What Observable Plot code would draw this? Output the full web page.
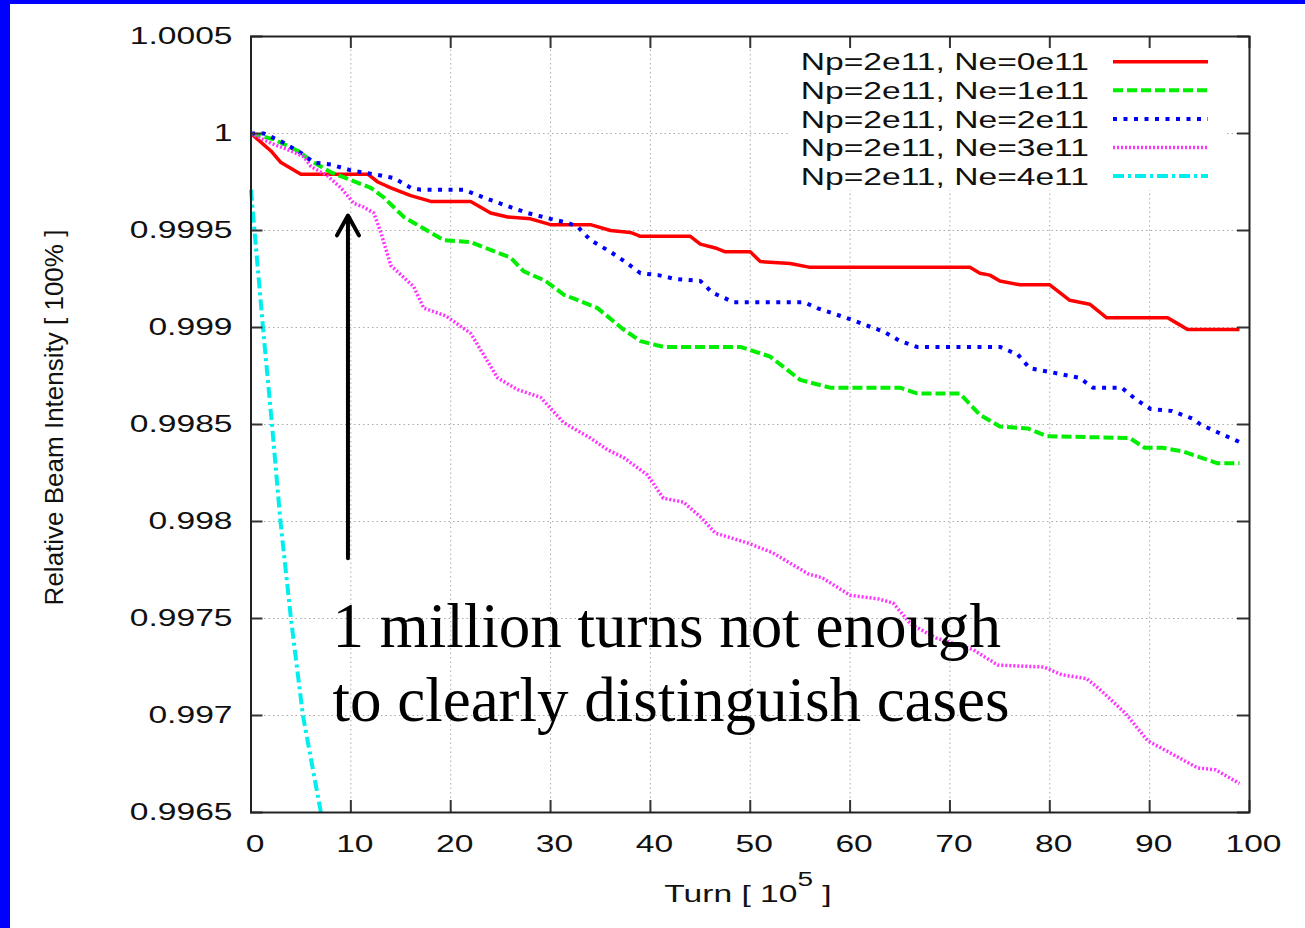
<!DOCTYPE html>
<html><head><meta charset="utf-8">
<script src="https://cdn.jsdelivr.net/npm/d3@7"></script>
<script src="https://cdn.jsdelivr.net/npm/@observablehq/plot@0.6"></script>
<style>
html,body{margin:0;padding:0;background:#fff;}
#page{position:relative;width:1305px;height:928px;overflow:hidden;background:#fff;}
#barL{position:absolute;left:0;top:0;width:10px;height:928px;background:#0000ff;}
#barT{position:absolute;left:0;top:0;width:1305px;height:4px;background:#0000ff;}
#chart{position:absolute;left:10px;top:4px;}
</style></head><body>
<div id="page"><div id="chart"></div><div id="barL"></div><div id="barT"></div></div>
<script>
// ---------- data ----------
const seriesLabels = ["Np=2e11, Ne=0e11","Np=2e11, Ne=1e11","Np=2e11, Ne=2e11","Np=2e11, Ne=3e11","Np=2e11, Ne=4e11"];

const turnsNe0 = [0,2,3,5,11.7,12.7,14,16,18,22,24,25.7,28,30,34,36,38,39,44,45,46.5,47.5,50,51,54,56,72,73,74,75,77,80,82,84,85.7,91.8,92.8,93.8,99];
const intensityNe0 = [1,0.99991,0.99985,0.99979,0.99979,0.99975,0.99972,0.99968,0.99965,0.99965,0.99959,0.99957,0.99956,0.99953,0.99953,0.9995,0.99949,0.99947,0.99947,0.99943,0.99941,0.99939,0.99939,0.99934,0.99933,0.99931,0.99931,0.99928,0.99927,0.99924,0.99922,0.99922,0.99914,0.99912,0.99905,0.99905,0.99902,0.99899,0.99899];

const turnsNe1 = [0,2.3,4.7,6,8,10,12,13.3,15.3,17.3,19.3,22,26,27.3,29.5,31.3,34.7,37.3,39,41.3,49,52,55,58,65,66.7,71,73,75,77.8,79.7,88,89.5,91.3,93.4,96.8,99];
const intensityNe1 = [1,0.99997,0.99991,0.99986,0.9998,0.99976,0.99972,0.99967,0.99957,0.99951,0.99945,0.99944,0.99936,0.99929,0.99924,0.99917,0.9991,0.99899,0.99893,0.9989,0.9989,0.99885,0.99873,0.99869,0.99869,0.99866,0.99866,0.99855,0.99849,0.99848,0.99844,0.99843,0.99838,0.99838,0.99836,0.9983,0.9983];

const turnsNe2 = [0,1.3,3,5,6.3,8,10,12.3,14.3,16,17,21.3,23.3,26,27.7,30,31.7,32.7,34,36,37.7,39,40.8,42.5,45,46.2,47.5,48.3,55.4,56.7,59.6,61.7,63.3,65,66.7,75,76.8,78,80.1,83,84.3,87.2,88.6,90.1,92.2,94.3,95.1,96.8,99];
const intensityNe2 = [1,1,0.99996,0.9999,0.99985,0.99984,0.99981,0.99979,0.99977,0.99972,0.99971,0.99971,0.99967,0.99962,0.99959,0.99956,0.99954,0.99952,0.99945,0.99939,0.99933,0.99928,0.99927,0.99925,0.99924,0.99918,0.99915,0.99913,0.99913,0.9991,0.99905,0.99901,0.99898,0.99893,0.9989,0.9989,0.99886,0.99879,0.99877,0.99874,0.99869,0.99869,0.99863,0.99858,0.99857,0.99853,0.9985,0.99846,0.99841];

const turnsNe3 = [0,2,4,5.3,6,7.7,9,10.3,11.3,12.3,13,14,16.3,17.3,19.5,22,24.7,26.7,29,31.3,34,35.7,37.3,39.7,41.3,43.3,45.1,46.5,49.7,52.2,55.8,57.2,60,62.9,64.3,66.1,68.6,72.3,74.8,79.4,81.2,83.7,85.1,87.6,89.8,91.6,94.8,96.6,99];
const intensityNe3 = [1,0.99995,0.99991,0.99988,0.99983,0.99978,0.99972,0.99964,0.99962,0.99959,0.99949,0.99932,0.99921,0.9991,0.99906,0.99897,0.99874,0.99868,0.99864,0.99851,0.99843,0.99837,0.99833,0.99824,0.99812,0.9981,0.99802,0.99794,0.99789,0.99784,0.99773,0.99771,0.99762,0.9976,0.99758,0.99747,0.9974,0.99734,0.99726,0.99725,0.99721,0.99719,0.99713,0.99701,0.99687,0.99682,0.99673,0.99672,0.99665];

const turnsNe4 = [0,0.35,1.2,2.1,2.95,4.0,5.2,7.0];
const intensityNe4 = [0.99971,0.9995,0.999,0.9985,0.998,0.9975,0.997,0.9965];

const xTicks = [0,10,20,30,40,50,60,70,80,90,100];
const xTickLabels = ["0","10","20","30","40","50","60","70","80","90","100"];
const yTicks = [0.9965,0.997,0.9975,0.998,0.9985,0.999,0.9995,1,1.0005];
const yTickLabels = ["0.9965","0.997","0.9975","0.998","0.9985","0.999","0.9995","1","1.0005"];

const xLabelMain = "Turn [ 10", xLabelSup = "5", xLabelEnd = " ]";
const yLabelText = "Relative Beam Intensity [ 100% ]";

const annotationLines = ["1 million turns not enough", "to clearly distinguish cases"];
const annotationAt = {turn: 8.16, intensity: 0.99697};
const arrowAt = {turn: 9.71, from: 0.99781, to: 0.999577};

// ---------- styles ----------
const seriesColors = ["#ff0000","#00ee00","#0000ff","#ff33ff","#00eeee"];
const seriesWidths = [3.5,4,4,3.5,4];
const seriesDashes = [null,"10,4","4,6.5","2,2","11,4,3,4"];

const turns = [turnsNe0,turnsNe1,turnsNe2,turnsNe3,turnsNe4];
const intensities = [intensityNe0,intensityNe1,intensityNe2,intensityNe3,intensityNe4];
const rows = seriesLabels.map((label,i) => turns[i].map((t,j) => ({series: label, turn: t, intensity: intensities[i][j]})));

const W = 1295, H = 924, mL = 240.5, mR = 56, mT = 32, mB = 116;
const innerW = W - mL - mR, innerH = H - mT - mB;
const TICK = 12;

const svg = Plot.plot({
  width: W, height: H,
  marginLeft: mL, marginRight: mR, marginTop: mT, marginBottom: mB,
  style: {background: "transparent", fontFamily: "'Liberation Sans', Arial, sans-serif", fontSize: "24px", color: "#111", overflow: "visible"},
  x: {domain: [0,100], ticks: xTicks, tickFormat: d => xTickLabels[xTicks.indexOf(d)], tickSize: 0, tickPadding: 22, label: null},
  y: {domain: [0.9965,1.0005], ticks: yTicks, tickFormat: d => yTickLabels[yTicks.indexOf(d)], tickSize: 0, tickPadding: 18.5, label: null},
  marks: [
    Plot.ruleX(xTicks, {stroke: "#aaa", strokeWidth: 1, strokeDasharray: "1.5,3"}),
    Plot.ruleY(yTicks, {stroke: "#aaa", strokeWidth: 1, strokeDasharray: "1.5,3"}),
    ...rows.map((r,i) => Plot.line(r, {x: "turn", y: "intensity", stroke: seriesColors[i], strokeWidth: seriesWidths[i], strokeDasharray: seriesDashes[i] || undefined, strokeLinejoin: "round", strokeLinecap: "butt"})),
    Plot.ruleX(xTicks, {stroke: "#333", strokeWidth: 2, insetTop: innerH - TICK}),
    Plot.ruleX(xTicks, {stroke: "#333", strokeWidth: 2, insetBottom: innerH - TICK}),
    Plot.ruleY(yTicks, {stroke: "#333", strokeWidth: 2, insetRight: innerW - TICK}),
    Plot.ruleY(yTicks, {stroke: "#333", strokeWidth: 2, insetLeft: innerW - TICK}),
    Plot.frame({stroke: "#222", strokeWidth: 2}),
    Plot.arrow([arrowAt], {x1: "turn", x2: "turn", y1: "from", y2: "to", stroke: "#000", strokeWidth: 4, headLength: 8.5, headAngle: 58}),
    Plot.text([annotationAt], {x: "turn", y: "intensity", text: () => annotationLines.join("\n"), textAnchor: "start", lineAnchor: "bottom", lineHeight: 1.186, fontFamily: "Liberation Serif", fontSize: 63, fill: "#000"})
  ]
});
document.getElementById("chart").appendChild(svg);

const s = d3.select(svg);
// legend
const lg = s.append("g").attr("class", "legend");
lg.append("rect").attr("x", 780).attr("y", 44).attr("width", 435).attr("height", 142).attr("fill", "#fff");
seriesLabels.forEach((label, i) => {
  const cy = 57.7 + i * 28.6;
  lg.append("text").attr("x", 1079).attr("y", cy + 8.7).attr("text-anchor", "end").attr("fill", "#111").attr("font-size", 24).text(label);
  const ln = lg.append("line").attr("x1", 1103).attr("x2", 1198).attr("y1", cy).attr("y2", cy)
    .attr("stroke", seriesColors[i]).attr("stroke-width", seriesWidths[i]);
  if (seriesDashes[i]) ln.attr("stroke-dasharray", seriesDashes[i]);
});
// x label
const xl = s.append("text").attr("class", "xlabel").attr("x", 738).attr("y", 897.7).attr("text-anchor", "middle").attr("fill", "#111").attr("font-size", 24);
xl.append("tspan").text(xLabelMain);
xl.append("tspan").attr("font-size", 20).attr("dy", -16).text(xLabelSup);
xl.append("tspan").attr("dy", 16).text(xLabelEnd);
// y label
s.append("text").attr("class", "ylabel").attr("transform", "translate(52.5,413.5) rotate(-90)")
  .attr("text-anchor", "middle").attr("fill", "#111").attr("font-size", 26).text(yLabelText);

// horizontal stretch of the gnuplot-style text (axis tick labels, legend, x label only)
const SX = 1.4;
svg.querySelectorAll('[aria-label*="axis"] text, g.legend text, text.xlabel').forEach(t => {
  const b = t.getBBox();
  const anchor = getComputedStyle(t).textAnchor;
  const ax = anchor === "end" ? b.x + b.width : anchor === "middle" ? b.x + b.width / 2 : b.x;
  const dx = t.closest('[aria-label^="x-axis"]') ? 4 : 0;
  const tr = t.getAttribute("transform") || "";
  t.setAttribute("transform", `${tr} translate(${ax + dx},0) scale(${SX},1) translate(${-ax},0)`);
});
</script>
</body></html>
